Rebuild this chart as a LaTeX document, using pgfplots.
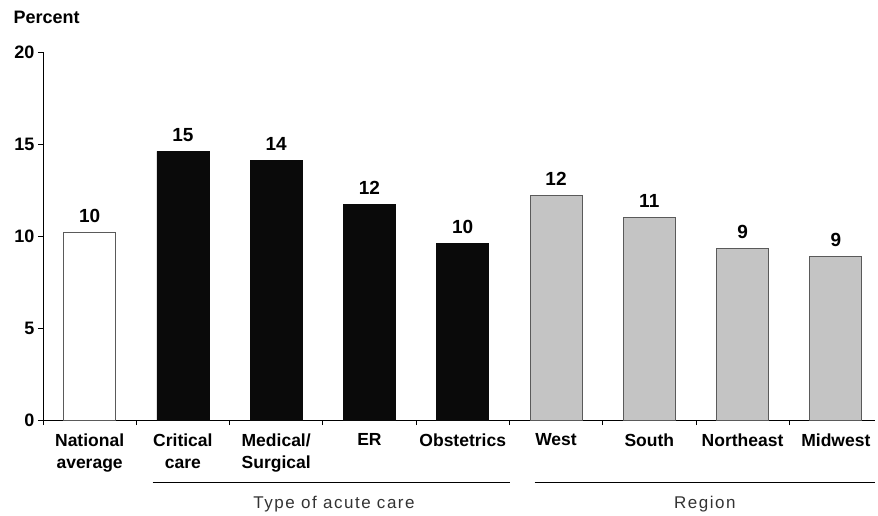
\documentclass[border=0pt]{standalone}
\usepackage{fontspec}
\setmainfont{Liberation Sans}
\newfontfamily\grpfont[LetterSpace=9]{Liberation Sans}
\usepackage{pgfplots}
\pgfplotsset{compat=1.18}
\definecolor{barblack}{RGB}{10,10,10}
\definecolor{bargray}{RGB}{196,196,196}
\definecolor{edgegray}{RGB}{90,90,90}
\begin{document}
\begin{tikzpicture}
\path[use as bounding box] (-43pt,-95pt) rectangle (835pt,420pt);
\begin{axis}[
  at={(0pt,0pt)}, anchor=south west,
  scale only axis, width=832pt, height=368pt,
  xmin=-0.5, xmax=8.42, ymin=0, ymax=20,
  clip=false,
  axis lines=left, axis line style={-, black, line width=0.8pt},
  ytick={0,5,...,20},
  xtick={0,...,8},
  xticklabels={{National\\average},{Critical\\care},{Medical/\\Surgical},ER,Obstetrics,West,South,Northeast,Midwest},
  minor xtick={-0.5,0.5,...,7.5},
  major x tick style={draw=none},
  minor x tick style={black, line width=0.8pt},
  major y tick style={black, line width=0.8pt},
  tick align=outside, major tick length=5pt, minor tick length=5pt,
  /pgf/number format/assume math mode=true,
  x tick label style={font=\fontsize{17.5}{22}\selectfont\bfseries, align=center, anchor=north, yshift=-5pt},
  y tick label style={font=\fontsize{18}{20}\selectfont\bfseries},
  ylabel={Percent},
  ylabel style={rotate=-90, at={(axis description cs:0,1)}, anchor=base west, xshift=-33pt, yshift=29pt, font=\fontsize{18}{20}\selectfont\bfseries},
  nodes near coords={\pgfmathprintnumber[fixed,precision=0]{\pgfplotspointmeta}},
  every node near coord/.append style={font=\fontsize{19}{22}\selectfont\bfseries, inner sep=0pt, anchor=base, yshift=10pt},
]
\addplot[ybar, bar width=52pt, bar shift=0pt, fill=white, draw=edgegray, line width=0.8pt] coordinates {(0,10.2)};
\addplot[ybar, bar width=52pt, bar shift=0pt, fill=barblack, draw=barblack, line width=0.8pt] coordinates {(1,14.6) (2,14.1) (3,11.7) (4,9.6)};
\addplot[ybar, bar width=52pt, bar shift=0pt, fill=bargray, draw=edgegray, line width=0.8pt] coordinates {(5,12.2) (6,11.0) (7,9.3) (8,8.9)};
\draw[line width=0.8pt] (axis cs:0.676,-3.37) -- (axis cs:4.504,-3.37);
\draw[line width=0.8pt] (axis cs:4.772,-3.37) -- (axis cs:8.418,-3.37);
\node[font=\grpfont\fontsize{17}{20}\selectfont, text=black!80] at (axis cs:2.62,-4.55) {Type of acute care};
\node[font=\grpfont\fontsize{17}{20}\selectfont, text=black!80] at (axis cs:6.595,-4.55) {Region};
\end{axis}
\end{tikzpicture}
\end{document}
